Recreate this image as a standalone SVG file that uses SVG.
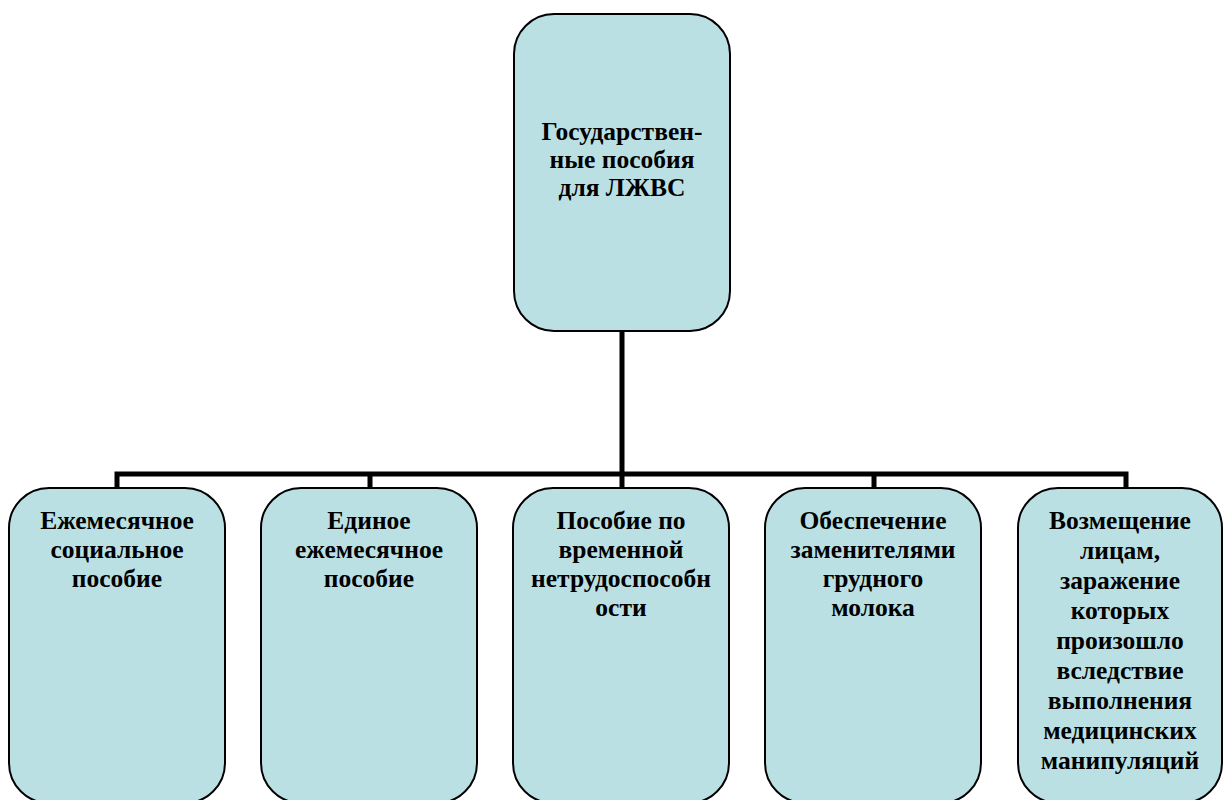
<svg xmlns="http://www.w3.org/2000/svg" width="1225" height="800" viewBox="0 0 1225 800">
<style>
.box{fill:#BBE0E3;stroke:#000;stroke-width:2}
.t{font-family:"Liberation Serif","Times New Roman",serif;font-weight:bold;font-size:25.5px;fill:#000;text-anchor:middle}
.c{fill:none;stroke:#000;stroke-width:5;stroke-linejoin:miter;stroke-linecap:butt}
</style>
<rect width="1225" height="800" fill="#fff"/>
<g id="connectors">
<path class="c" d="M622,331 V474"/>
<path class="c" d="M117,488 V474 H1126 V488"/>
<path class="c" d="M370,474 V488"/>
<path class="c" d="M622,474 V488"/>
<path class="c" d="M874,474 V488"/>
</g>
<g id="root">
<rect class="box" x="514" y="14" width="216" height="317" rx="40"/>
<text class="t" x="622" y="140">Государствен-</text>
<text class="t" x="622" y="168">ные пособия</text>
<text class="t" x="622" y="196">для ЛЖВС</text>
</g>
<g id="n1">
<rect class="box" x="9" y="488" width="216" height="315" rx="40"/>
<text class="t" x="117" y="529">Ежемесячное</text>
<text class="t" x="117" y="558">социальное</text>
<text class="t" x="117" y="587">пособие</text>
</g>
<g id="n2">
<rect class="box" x="261" y="488" width="216" height="315" rx="40"/>
<text class="t" x="369" y="529">Единое</text>
<text class="t" x="369" y="558">ежемесячное</text>
<text class="t" x="369" y="587">пособие</text>
</g>
<g id="n3">
<rect class="box" x="513" y="488" width="216" height="315" rx="40"/>
<text class="t" x="621" y="529">Пособие по</text>
<text class="t" x="621" y="558">временной</text>
<text class="t" x="621" y="587">нетрудоспособн</text>
<text class="t" x="621" y="616">ости</text>
</g>
<g id="n4">
<rect class="box" x="765" y="488" width="216" height="315" rx="40"/>
<text class="t" x="873" y="529">Обеспечение</text>
<text class="t" x="873" y="558">заменителями</text>
<text class="t" x="873" y="587">грудного</text>
<text class="t" x="873" y="616">молока</text>
</g>
<g id="n5">
<rect class="box" x="1018" y="488" width="204" height="315" rx="40"/>
<text class="t" x="1120" y="529">Возмещение</text>
<text class="t" x="1120" y="559">лицам,</text>
<text class="t" x="1120" y="589">заражение</text>
<text class="t" x="1120" y="619">которых</text>
<text class="t" x="1120" y="649">произошло</text>
<text class="t" x="1120" y="679">вследствие</text>
<text class="t" x="1120" y="709">выполнения</text>
<text class="t" x="1120" y="739">медицинских</text>
<text class="t" x="1120" y="769">манипуляций</text>
</g>
</svg>
